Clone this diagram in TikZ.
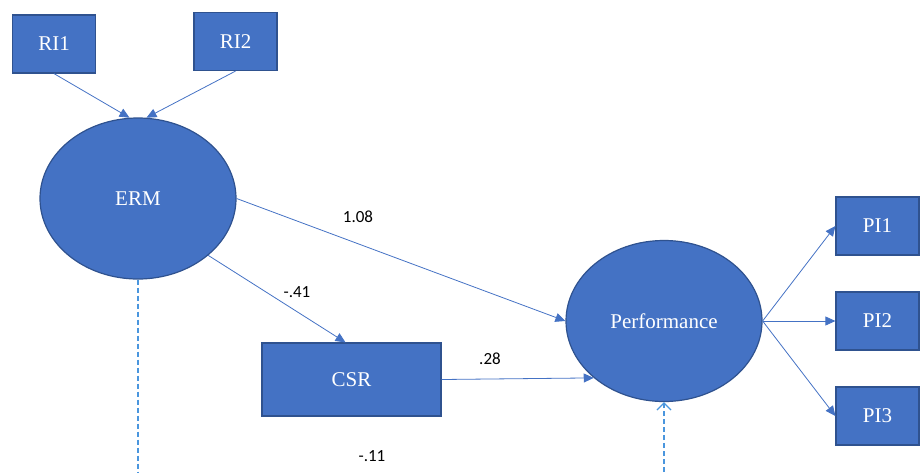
\documentclass[tikz,border=0pt]{standalone}
\usepackage{fontspec}
\setmainfont{Liberation Serif}
\newfontfamily\numfont{Carlito}
\usetikzlibrary{arrows.meta,positioning,shapes.geometric}
\definecolor{semblue}{RGB}{68,114,196}
\definecolor{semedge}{RGB}{47,82,143}
\definecolor{semdash}{RGB}{74,150,222}

\begin{document}
\begin{tikzpicture}[x=1pt, y=-1pt,
  latent/.style={ellipse, draw=semedge, line width=1.2pt, fill=semblue,
    text=white, minimum width=196pt, minimum height=161pt, inner sep=0pt,
    font=\fontsize{21}{25}\selectfont},
  indic/.style={rectangle, draw=semedge, line width=1.2pt, fill=semblue,
    text=white, minimum width=83pt, minimum height=58pt, inner sep=0pt,
    font=\fontsize{21}{25}\selectfont},
  arr/.style={-{Triangle[length=10pt,width=9pt]}, semblue, line width=0.8pt},
  dasharr/.style={semdash, line width=1.3pt, dash pattern=on 5pt off 3pt},
  coef/.style={font=\numfont\fontsize{17}{20}\selectfont, text=black}]
\useasboundingbox (0,0) rectangle (920,472);
% Nodes
\node[indic] (ri1) at (54,44) {RI1};
\node[indic] (ri2) at (235.5,41.5) {RI2};
\node[latent] (erm) at (138,198.5) {ERM};
\node[indic, minimum width=179pt, minimum height=73pt] (csr) at (351.5,379.5) {CSR};
\node[latent] (perf) at (664,321) {Performance};
\node[indic] (pi1) at (877.5,226) {PI1};
\node[indic] (pi2) at (877.5,321) {PI2};
\node[indic] (pi3) at (877.5,416) {PI3};
\coordinate (ermlow) at (138,480);
\coordinate (perflow) at (664,480);
% Arrows
\draw[arr] (ri1.south) -- (erm.96);
\draw[arr] (ri2.south) -- (erm.84);
\draw[arr] (erm.east) -- (perf.west);
\draw[arr] (erm.-39) -- ([xshift=-6pt]csr.north);
\draw[arr] (csr.east) -- (perf.-141);
\draw[arr] (perf.east) -- (pi1.west);
\draw[arr] (perf.east) -- (pi2.west);
\draw[arr] (perf.east) -- (pi3.west);
\draw[dasharr] (erm.south) -- (ermlow);
\draw[dasharr, -{Straight Barb[length=7pt,width=14pt]}] (perflow) -- (perf.south);
% Path coefficients
\node[coef] at (358,217) {1.08};
\node[coef] at (297,292) {-.41};
\node[coef] at (490,359) {.28};
\node[coef] at (372,456) {-.11};
\end{tikzpicture}
\end{document}
